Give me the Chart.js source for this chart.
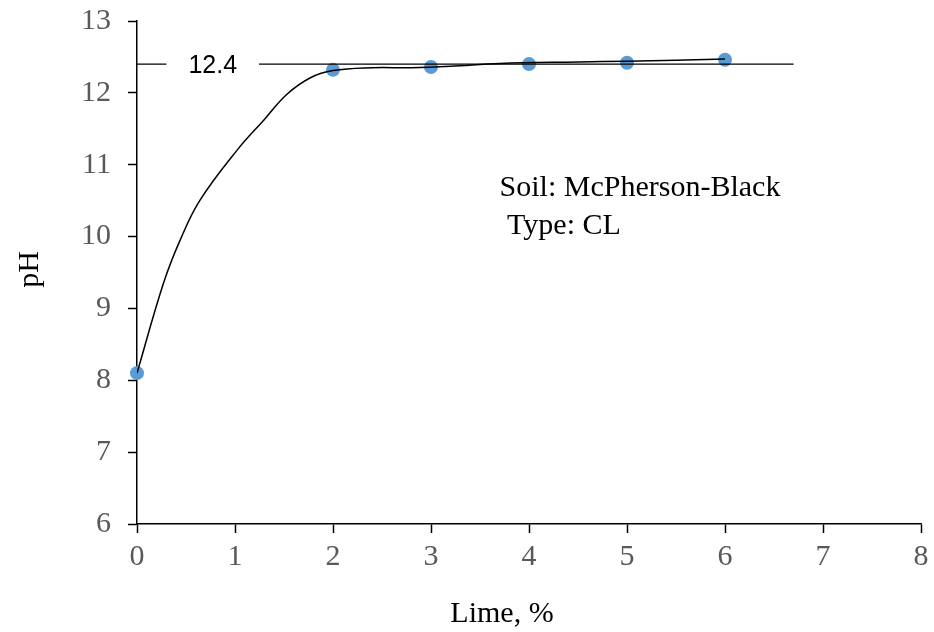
<!DOCTYPE html>
<html>
<head>
<meta charset="utf-8">
<script src="https://cdn.jsdelivr.net/npm/chart.js@4.4.1/dist/chart.umd.min.js"></script>
<style>
  html, body { margin: 0; padding: 0; background: #fff; }
  #wrap { width: 934px; height: 632px; }
</style>
</head>
<body>
<div id="wrap"><canvas id="ph-chart"></canvas></div>
<script>
// measured pH against lime content
const limePct = [0, 2, 3, 4, 5, 6];
const phMeasured = [8.1, 12.32, 12.36, 12.4, 12.42, 12.46];

// smooth trend through the measurements
const curveLime = [0, 0.27, 0.44, 0.64, 1.02, 1.3, 1.53, 1.77, 2.0, 2.4, 2.8, 3.2, 3.7, 4.5, 5, 6];
const curvePH = [8.1, 9.35, 9.95, 10.5, 11.2, 11.63, 11.98, 12.21, 12.31, 12.35, 12.35, 12.37, 12.41, 12.43, 12.44, 12.47];

// plateau (optimum pH) line
const plateauPH = 12.4;
const plateauLime = [0, 6.7];

const soilNote = ["Soil: McPherson-Black", " Type: CL"];

const serif = "'Times New Roman', 'Liberation Serif', serif";

const toPoints = (xs, ys) => xs.map((v, i) => ({ x: v, y: ys[i] }));

const notes = {
	id: "notes",
	afterDatasetsDraw(chart) {
		const { ctx, scales: { x, y } } = chart;
		ctx.save();

		// value label sitting on the plateau line
		const ly = y.getPixelForValue(plateauPH);
		const bx0 = x.getPixelForValue(0.3);
		const bx1 = x.getPixelForValue(1.245);
		ctx.fillStyle = "#fff";
		ctx.fillRect(bx0, ly - 14, bx1 - bx0, 28);
		ctx.fillStyle = "#000";
		ctx.font = "25px Arial, 'Liberation Sans', sans-serif";
		ctx.textAlign = "center";
		ctx.textBaseline = "middle";
		ctx.fillText(plateauPH.toFixed(1), (bx0 + bx1) / 2, ly + 2);

		// soil description
		ctx.font = "30px " + serif;
		ctx.textAlign = "left";
		ctx.textBaseline = "alphabetic";
		const tx = x.getPixelForValue(3.7);
		const ty = y.getPixelForValue(10.56);
		soilNote.forEach((line, i) => ctx.fillText(line, tx, ty + i * 38));
		ctx.restore();
	},
	afterDraw(chart) {
		const { ctx, chartArea } = chart;
		ctx.save();
		ctx.fillStyle = "#000";
		ctx.font = "30px " + serif;
		ctx.textAlign = "center";
		ctx.textBaseline = "alphabetic";
		ctx.fillText("Lime, %", (chartArea.left + chartArea.right) / 2 - 27, 622);

		ctx.translate(30, (chartArea.top + chartArea.bottom) / 2 - 3);
		ctx.rotate(-Math.PI / 2);
		ctx.textBaseline = "middle";
		ctx.fillText("pH", 0, 0);
		ctx.restore();
	}
};

const axisStyle = {
	grid: {
		drawOnChartArea: false,
		drawTicks: true,
		tickLength: 9,
		tickColor: "#000",
		tickWidth: 1.5
	},
	border: { color: "#000", width: 1.5 },
	ticks: {
		color: "#595959",
		font: { family: serif, size: 30 },
		stepSize: 1
	}
};

const phContext = document.getElementById("ph-chart").getContext("2d");
const phChart = new Chart(phContext, {
	type: "scatter",
	data: {
		datasets: [
			{
				label: "trend",
				data: toPoints(curveLime, curvePH),
				showLine: true,
				borderColor: "#000",
				borderWidth: 1.5,
				pointRadius: 0,
				tension: 0.4
			},
			{
				label: "plateau",
				data: toPoints(plateauLime, plateauLime.map(() => plateauPH)),
				showLine: true,
				borderColor: "#000",
				borderWidth: 1.4,
				pointRadius: 0,
				clip: false
			},
			{
				label: "pH",
				data: toPoints(limePct, phMeasured),
				backgroundColor: "#5B9BD5",
				borderColor: "#5B9BD5",
				borderWidth: 0,
				pointRadius: 7,
				clip: false
			}
		]
	},
	options: {
		responsive: true,
		maintainAspectRatio: false,
		animation: false,
		layout: { padding: { top: 21, right: 13, left: 0, bottom: 0 } },
		plugins: {
			legend: { display: false },
			tooltip: { enabled: false }
		},
		scales: {
			x: {
				...axisStyle,
				type: "linear",
				min: 0,
				max: 8,
				ticks: { ...axisStyle.ticks, padding: 6, maxRotation: 0 },
				afterFit: (scale) => {
					scale.height = 108;
					scale.paddingLeft = 0;
					scale.paddingRight = 0;
				}
			},
			y: {
				...axisStyle,
				min: 6,
				max: 13,
				ticks: { ...axisStyle.ticks, padding: 17 },
				afterFit: (scale) => {
					scale.width = 137;
					scale.paddingTop = 0;
					scale.paddingBottom = 0;
				}
			}
		}
	},
	plugins: [notes]
});
</script>
</body>
</html>
